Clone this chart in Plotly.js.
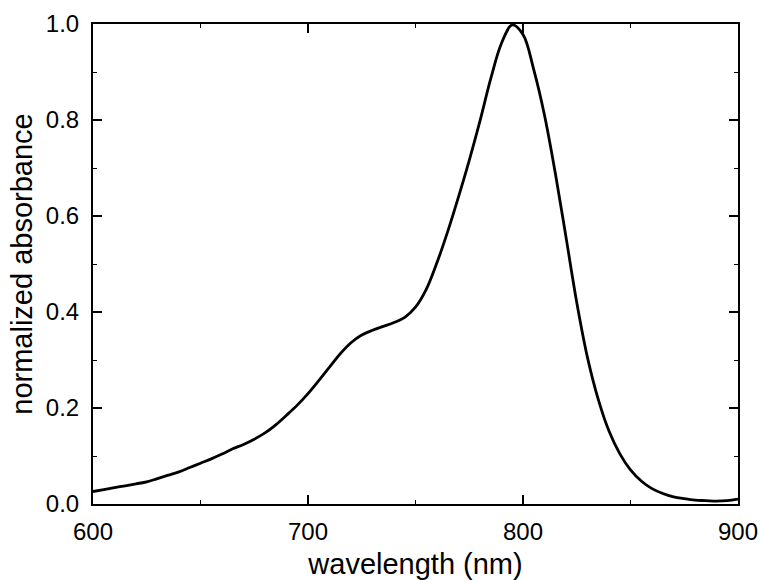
<!DOCTYPE html>
<html>
<head>
<meta charset="utf-8">
<script src="https://cdn.plot.ly/plotly-3.0.1.min.js"></script>
<style>body{margin:0;padding:0;background:#fff;}#chart{width:760px;height:580px;}</style>
</head>
<body>
<div id="chart"></div>
<script>
const wavelength = [600,605,610,615,620,625,630,635,640,645,650,655,660,665,670,675,680,685,690,695,700,705,710,715,720,725,730,735,740,745,750,755,760,765,770,775,780,785,790,795,800,805,810,815,820,825,830,835,840,845,850,855,860,865,870,875,880,885,890,895,900];
const absorbance = [0.026,0.030,0.034,0.038,0.042,0.046,0.053,0.060,0.067,0.076,0.085,0.094,0.104,0.115,0.124,0.135,0.148,0.165,0.185,0.206,0.230,0.257,0.285,0.313,0.336,0.352,0.362,0.370,0.378,0.389,0.410,0.447,0.503,0.568,0.640,0.716,0.798,0.886,0.960,0.998,0.978,0.905,0.810,0.690,0.556,0.420,0.305,0.218,0.152,0.105,0.071,0.048,0.032,0.022,0.015,0.011,0.008,0.007,0.006,0.007,0.010];
const xTicks = [600,700,800,900];
const yTicks = [0.0,0.2,0.4,0.6,0.8,1.0];

const font = {family: 'Liberation Sans, Arial, sans-serif', color: '#000'};
const axisCommon = {
  showline: true, linecolor: '#000', linewidth: 2, mirror: 'ticks',
  ticks: 'inside', ticklen: 9, tickwidth: 1.5, tickcolor: '#000',
  showgrid: false, zeroline: false, automargin: false,
  tickfont: Object.assign({size: 24}, font)
};
const layout = {
  width: 760, height: 580,
  margin: {l: 93, r: 22, t: 24, b: 76},
  paper_bgcolor: '#fff', plot_bgcolor: '#fff',
  showlegend: false,
  xaxis: Object.assign({}, axisCommon, {
    range: [600, 900], tickvals: xTicks, ticktext: xTicks.map(String),
    ticklabelstandoff: 5,
    minor: {dtick: 50, ticks: 'inside', ticklen: 4, tickwidth: 1, tickcolor: '#000', showgrid: false},
    title: {text: 'wavelength (nm)', font: Object.assign({size: 29}, font), standoff: 12}
  }),
  yaxis: Object.assign({}, axisCommon, {
    range: [0, 1.0], tickvals: yTicks, ticktext: yTicks.map(v => v.toFixed(1)),
    ticklabelstandoff: 7,
    minor: {dtick: 0.1, ticks: 'inside', ticklen: 4, tickwidth: 1, tickcolor: '#000', showgrid: false},
    title: {text: 'normalized absorbance', font: Object.assign({size: 29}, font), standoff: 5}
  })
};
const data = [{
  x: wavelength, y: absorbance, type: 'scatter', mode: 'lines',
  line: {color: '#000', width: 2.8, shape: 'spline', smoothing: 1},
  cliponaxis: true, hoverinfo: 'none'
}];
Plotly.newPlot('chart', data, layout, {staticPlot: true, displayModeBar: false});
</script>
</body>
</html>
